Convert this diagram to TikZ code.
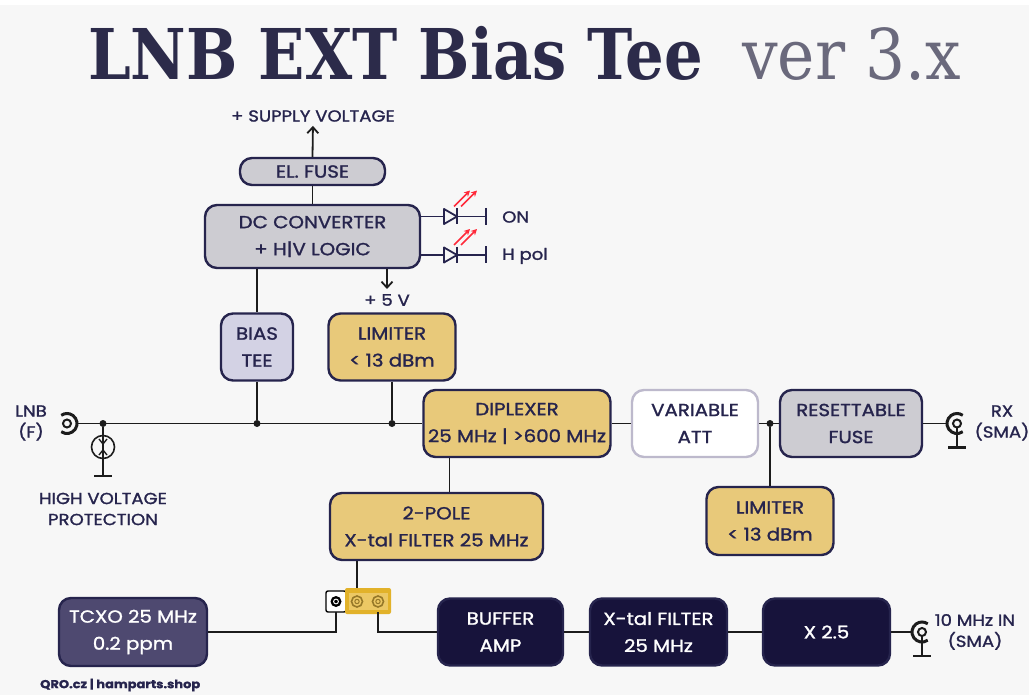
\documentclass[tikz,border=0pt]{standalone}
\usepackage{fontspec}
\setmainfont{Poppins}[FakeStretch=1.13, FakeBold=1.4]
\newfontfamily\titlefont{DejaVu Serif Condensed}
\usetikzlibrary{arrows.meta}
\definecolor{navy}{RGB}{38, 36, 77}
\definecolor{bgc}{RGB}{247, 247, 247}
\definecolor{boxgray}{RGB}{205, 204, 210}
\definecolor{lavender}{RGB}{211, 210, 228}
\definecolor{gold}{RGB}{232, 201, 122}
\definecolor{attline}{RGB}{189, 185, 204}
\definecolor{tcxoc}{RGB}{78, 73, 112}
\definecolor{darkc}{RGB}{23, 19, 59}
\definecolor{wirec}{RGB}{28, 28, 28}
\definecolor{titlec}{RGB}{44, 43, 74}
\definecolor{verc}{RGB}{106, 105, 124}
\definecolor{ledred}{RGB}{255, 42, 58}
\definecolor{jgold}{RGB}{226, 178, 42}
\definecolor{jlight}{RGB}{236, 200, 100}
\definecolor{jpin}{RGB}{150, 120, 40}

\begin{document}
\begin{tikzpicture}[x=1pt, y=-1pt,
  blk/.style={draw=navy, line width=2.4pt, rounded corners=12pt, align=center,
    inner sep=0pt, text=navy, font=\fontsize{17.5}{27}\selectfont},
  grayblk/.style={blk, fill=boxgray},
  goldblk/.style={blk, fill=gold},
  darkblk/.style={blk, fill=darkc, text=white},
  wire/.style={line width=1.8pt, draw=wirec},
  arr/.style={wire, -{Straight Barb[length=6pt, width=11pt, line width=1.8pt]}},
  dot/.style={circle, fill=wirec, inner sep=0pt, minimum size=7pt},
  lbl/.style={text=navy, align=center, inner sep=0pt, font=\fontsize{16}{21}\selectfont}]
\fill[white] (0,0) rectangle (1029,695);
\fill[bgc] (0,5) rectangle (1029,695);
\useasboundingbox (0,0) rectangle (1029,695);

\node[anchor=base west, inner sep=0pt, text=titlec] (title) at (88,80)
  {\scalebox{0.965}[1]{\titlefont\bfseries\fontsize{70}{70}\selectfont LNB EXT Bias Tee}};
\node[anchor=base west, inner sep=0pt, text=verc] (ver) at (742,80)
  {\titlefont\fontsize{70}{70}\selectfont ver 3.x};

\node[grayblk, minimum width=145pt, minimum height=27pt] (fuse) at (312.5,171.5) {EL. FUSE};
\node[grayblk, minimum width=215pt, minimum height=63pt] (dcconv) at (312.5,236.5)
  {DC CONVERTER\\+ H|V LOGIC};
\node[blk, fill=lavender, minimum width=72pt, minimum height=67pt] (biastee) at (257,347) {BIAS\\TEE};
\node[goldblk, minimum width=127pt, minimum height=67pt] (lim1) at (392,347) {LIMITER\\< 13 dBm};
\node[goldblk, minimum width=187pt, minimum height=67pt] (diplex) at (517,423.5)
  {DIPLEXER\\25 MHz | >600 MHz};
\node[blk, draw=attline, fill=white, minimum width=126pt, minimum height=67pt] (att) at (695,423.5)
  {VARIABLE\\ATT};
\node[grayblk, minimum width=142pt, minimum height=67pt] (rfuse) at (851,423.5) {RESETTABLE\\FUSE};
\node[goldblk, minimum width=127pt, minimum height=68pt] (lim2) at (770,521) {LIMITER\\< 13 dBm};
\node[goldblk, minimum width=213pt, minimum height=67pt] (filt2) at (436.5,526.5)
  {2-POLE\\X-tal FILTER 25 MHz};
\node[blk, fill=tcxoc, text=white, minimum width=148pt, minimum height=68pt] (tcxo) at (133,632)
  {TCXO 25 MHz\\0.2 ppm};
\node[darkblk, minimum width=125pt, minimum height=67pt] (buf) at (500.5,632) {BUFFER\\AMP};
\node[darkblk, minimum width=137pt, minimum height=67pt] (xfilt) at (658.5,632)
  {X-tal FILTER\\25 MHz};
\node[darkblk, minimum width=127pt, minimum height=67pt] (mult) at (826.5,632) {X 2.5};

\node[lbl] (supply) at (313,116) {+ SUPPLY VOLTAGE};
\node[lbl] (plus5) at (387,300) {+ 5 V};
\node[lbl] (lnblbl) at (31,423) {LNB\\(F)};
\node[lbl] (hvlbl) at (103,509) {HIGH VOLTAGE\\PROTECTION};
\node[lbl] (rxlbl) at (1002,423) {RX\\(SMA)};
\node[lbl] (tenlbl) at (975,632) {10 MHz IN\\(SMA)};
\node[lbl, font=\bfseries\fontsize{11.5}{12}\selectfont, anchor=west] (footer) at (40,685)
  {QRO.cz | hamparts.shop};

\coordinate (lnbc) at (67,423.5);
\coordinate (rxc) at (957,423.5);
\coordinate (tenc) at (922,632);
\node[dot] (j1) at (103,423.5) {};
\node[dot] (j2) at (biastee.south |- lnbc) {};
\node[dot] (j3) at (lim1.south |- lnbc) {};
\node[dot] (j4) at (770,423.5) {};

\draw[arr] (fuse.north) -- (supply.south) [shorten >=4pt];
\draw[wire] (dcconv.north) -- (fuse.south);
\draw[arr] ([xshift=74.5pt]dcconv.south) -- (plus5.north) [shorten >=5pt];
\draw[wire] (biastee.north |- dcconv.south) -- (biastee.north);
\draw[wire] (biastee.south) -- (j2);
\draw[wire] (lim1.south) -- (j3);
\draw[wire] ([xshift=10pt]lnbc) -- (diplex.west);
\draw[wire] (diplex.east) -- (att.west);
\draw[wire] (att.east) -- (rfuse.west);
\draw[wire] (j4) -- (lim2.north);
\draw[wire] (rfuse.east) -- ([xshift=-10pt]rxc);
\draw[wire] ([xshift=-67.5pt]diplex.south) coordinate (dd) -- (dd |- filt2.north);
\draw[wire] (buf.east) -- (xfilt.west);
\draw[wire] (xfilt.east) -- (mult.west);
\draw[wire] (mult.east) -- ([xshift=-10pt]tenc);

\foreach \y/\t in {216.5/on, 255/hpol}{
  \draw[line width=1.8pt, navy] (dcconv.east |- 0,\y) -- (444,\y);
  \draw[line width=1.8pt, navy, line join=round] (444,\y-7.5) -- (444,\y+7.5) -- (457,\y) -- cycle;
  \draw[line width=1.8pt, navy] (457,\y-8) -- (457,\y+8);
  \draw[line width=1.8pt, navy] (457,\y) -- (486,\y);
  \draw[line width=1.8pt, navy] (486,\y-8.5) -- (486,\y+8.5);
  \foreach \dx in {0,7}
    \draw[ledred, line width=1.5pt, -{Stealth[length=6pt, width=6pt]}] (454+\dx,\y-10) -- (470+\dx,\y-26);
}
\node[lbl, anchor=west] (ledon) at (502,217) {ON};
\node[lbl, anchor=west] (ledh) at (502,256) {H pol};

\draw[line width=3pt, wirec] (lnbc) +(125:10) arc[start angle=125, end angle=-125, radius=10];
\draw[line width=2pt, wirec] (lnbc) circle (4);
\draw[wire] (j1) -- (103,476);
\draw[line width=1.6pt, wirec] (103,447) circle (11.5);
\draw[line width=1.4pt, wirec] (99,439) -- (103,444) -- (107,439);
\draw[line width=1.4pt, wirec] (99,455) -- (103,450) -- (107,455);
\draw[line width=1.8pt, wirec] (94,476) -- (112,476);

\foreach \c/\g in {rxc/24, tenc/24}{
  \draw[line width=3pt, wirec] (\c) +(55:10) arc[start angle=55, end angle=305, radius=10];
  \draw[line width=2pt, wirec] (\c) circle (4);
  \draw[line width=2pt, wirec] (\c) ++(0,4) -- ++(0,\g-4);
  \draw[line width=2.4pt, wirec] (\c) ++(-9,\g) -- ++(18,0);
}

\coordinate (jpA) at (336,612);
\coordinate (jpB) at (357,589);
\coordinate (jpC) at (378,612);
\draw[wire] (filt2.south -| jpB) -- (jpB);
\draw[line width=1.4pt, black, fill=white, rounded corners=2pt] (326,591) rectangle (346,612);
\fill[jgold, rounded corners=2pt] (345,588) rectangle (391,614);
\fill[jlight] (349,593) rectangle (388,610);
\fill[black] (336,601.5) circle (5.5);
\draw[white, line width=1pt] (336,601.5) circle (2.4);
\foreach \x in {357,378}{
  \draw[jpin, line width=1.6pt] (\x,601.5) circle (5.5);
  \draw[jpin, line width=1pt] (\x,601.5) circle (2.2);
}
\draw[wire] (jpA) |- (tcxo.east);
\draw[wire] (jpC) |- (buf.west);
\end{tikzpicture}
\end{document}
